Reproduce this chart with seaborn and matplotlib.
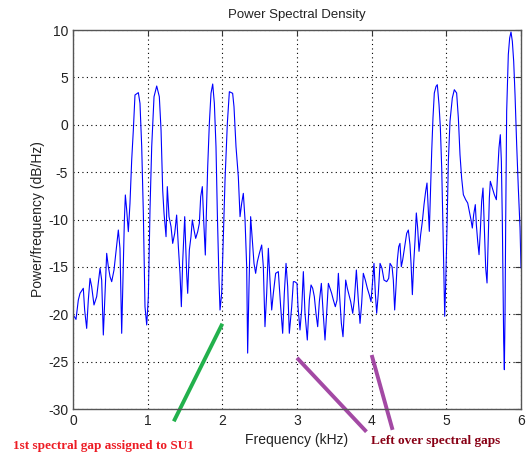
import numpy as np
import pandas as pd
import seaborn as sns
import matplotlib.pyplot as plt

sns.set_style('white')
plt.rcParams['font.family'] = ['Liberation Sans', 'DejaVu Sans']
plt.rcParams['axes.unicode_minus'] = False

# PSD trace (kHz, dB/Hz)
freq = [0.004, 0.04, 0.071, 0.094, 0.138, 0.156, 0.183, 0.205, 0.228, 0.25,
        0.281, 0.317, 0.362, 0.384, 0.406, 0.429, 0.451, 0.473, 0.496, 0.518,
        0.549, 0.585, 0.607, 0.629, 0.652, 0.674, 0.688, 0.701, 0.719, 0.741,
        0.763, 0.786, 0.808, 0.83, 0.875, 0.897, 0.92, 0.942, 0.964, 0.987,
        1.009, 1.031, 1.054, 1.085, 1.121, 1.156, 1.179, 1.201, 1.219, 1.246,
        1.263, 1.286, 1.313, 1.335, 1.362, 1.388, 1.411, 1.433, 1.451, 1.469,
        1.496,
        1.522, 1.536, 1.558, 1.58, 1.598, 1.621, 1.643, 1.67, 1.692, 1.71,
        1.732, 1.75, 1.772, 1.786, 1.804, 1.826, 1.848, 1.871, 1.893, 1.915,
        1.933, 1.955, 1.969, 1.991, 2.013, 2.036, 2.067, 2.094, 2.138, 2.156,
        2.183, 2.214, 2.237, 2.259, 2.281, 2.304, 2.326, 2.339, 2.357, 2.379,
        2.402, 2.424, 2.446, 2.469, 2.496, 2.527, 2.549, 2.571, 2.594, 2.616,
        2.638, 2.661, 2.683, 2.714, 2.75, 2.781, 2.808, 2.83, 2.853, 2.875,
        2.897, 2.929, 2.951,
        2.969, 3.0, 3.013, 3.04, 3.062, 3.085, 3.107, 3.138, 3.165, 3.188,
        3.21, 3.232, 3.254, 3.277, 3.299, 3.326, 3.348, 3.375, 3.397, 3.42,
        3.442, 3.464, 3.487, 3.513, 3.536, 3.554, 3.571, 3.594, 3.616, 3.634,
        3.652, 3.674, 3.696, 3.719, 3.746, 3.768, 3.795, 3.821, 3.844, 3.866,
        3.888, 3.915, 3.942, 3.969, 3.991, 4.013, 4.031, 4.049, 4.067, 4.089,
        4.112, 4.138, 4.165, 4.201, 4.228, 4.246, 4.273, 4.29, 4.308, 4.326,
        4.344, 4.362, 4.379, 4.397, 4.415, 4.442, 4.469, 4.491,
        4.513, 4.527, 4.545, 4.563, 4.58, 4.598, 4.616, 4.634, 4.656, 4.679,
        4.701, 4.723, 4.741, 4.759, 4.772, 4.79, 4.804, 4.821, 4.839, 4.862,
        4.879, 4.902, 4.92, 4.938, 4.955, 4.969, 4.978, 4.991, 5.009, 5.027,
        5.049, 5.08, 5.107, 5.138, 5.161, 5.183, 5.205, 5.228, 5.259, 5.286,
        5.308, 5.33, 5.348, 5.366, 5.388, 5.402, 5.42, 5.438, 5.455, 5.473,
        5.491, 5.509, 5.527, 5.545, 5.563, 5.576, 5.589, 5.616, 5.643, 5.67,
        5.688, 5.705, 5.723, 5.737, 5.75, 5.759, 5.768, 5.777, 5.786, 5.795,
        5.808, 5.83, 5.848, 5.866, 5.884, 5.902, 5.92, 5.942, 5.964, 5.987,
        6.0]

psd = [-20.08, -20.54, -18.5, -17.79, -17.26, -19.55, -21.49, -18.5, -16.21, -17.09,
       -19.02, -18.14, -15.15, -16.39, -22.19, -17.79, -13.57, -14.98, -16.03, -16.56,
       -15.33, -12.69, -11.11, -13.04, -22.01, -14.98, -10.05, -7.41, -9.0, -11.28,
       -8.29, -3.72, -0.55, 3.14, 3.39, 2.26, -2.31, -9.35, -19.2, -21.13,
       -18.14, -9.0, -2.31, 2.96, 4.09, 2.96, -0.55, -6.89, -9.35, -11.81,
       -6.53, -9.7, -10.76, -12.52, -11.46, -9.53, -12.87, -15.68, -19.2, -14.45,
       -9.7,
       -15.68, -17.79, -13.22, -11.81, -10.05, -11.11, -11.99, -11.28, -10.4, -7.59,
       -6.53, -10.05, -13.75, -9.35, -4.42, 0.15, 3.32, 4.3, 2.26, -2.31,
       -9.35, -16.39, -19.55, -17.79, -11.81, -5.83, 0.15, 3.49, 3.32, 1.91,
       -2.31, -5.48, -9.7, -8.29, -7.24, -10.05, -14.98, -24.1, -17.09, -9.7,
       -12.16, -14.63, -15.68, -14.45, -13.57, -12.69, -14.98, -21.31, -17.79, -13.04,
       -16.39, -19.55, -17.79, -15.68, -15.5, -19.2, -22.01, -17.79, -14.63, -17.09,
       -22.01, -19.2, -16.56,
       -16.56, -16.74, -19.2, -21.66, -19.55, -15.5, -19.9, -22.72, -18.5, -16.91,
       -17.26, -18.14, -19.9, -21.31, -18.67, -16.74, -19.55, -22.72, -19.9, -16.74,
       -17.26, -17.79, -18.5, -19.2, -18.5, -15.68, -18.14, -20.96, -22.37, -19.55,
       -16.39, -17.26, -17.97, -18.67, -19.9, -18.5, -15.33, -18.5, -20.96, -18.85,
       -15.68, -16.39, -17.26, -17.97, -18.67, -16.39, -14.63, -17.79, -19.9, -17.79,
       -14.63, -15.15, -16.39, -16.56, -16.21, -14.63, -14.98, -16.39, -19.55, -17.09,
       -14.28, -12.87, -12.52, -14.98, -14.28, -12.87, -11.46, -11.11,
       -12.66, -14.59, -17.93, -14.59, -12.3, -9.31, -10.9, -13.36, -11.6, -10.19,
       -8.43, -7.03, -6.15, -9.14, -11.25, -6.32, -2.81, 0.71, 3.35, 4.05,
       4.23, 2.12, -0.34, -4.57, -10.9, -16.88, -20.22, -16.88, -10.9, -3.86,
       0.36, 2.82, 3.7, 3.35, 0.71, -3.16, -5.62, -7.38, -7.91, -8.26,
       -9.14, -10.02, -10.9, -9.49, -8.43, -10.55, -12.3, -13.71, -11.25, -8.08,
       -6.68, -10.9, -15.12, -16.7, -11.6, -7.73, -5.97, -6.68, -7.38, -7.91,
       -4.92, -2.45, -1.05, -3.86, -10.19, -16.53, -22.86, -25.85, -20.04, -10.19,
       1.42, 7.4, 9.15, 9.79, 8.8, 6.69, 3.17, -2.1, -6.68, -10.9,
       -15.12]

x_ticks = [0, 1, 2, 3, 4, 5, 6]
y_ticks = [-30, -25, -20, -15, -10, -5, 0, 5, 10]

# annotation pointers (start / end in data units)
green_x = [1.35, 2.0]
green_y = [-31.3, -21.0]
gap1_x = [3.0, 3.93]
gap1_y = [-24.6, -32.4]
gap2_x = [4.0, 4.28]
gap2_y = [-24.3, -32.2]

df = pd.DataFrame({'freq': freq, 'psd': psd})

fig = plt.figure(figsize=(5.26, 4.54), dpi=100)
ax = fig.add_axes([0.1388, 0.0991, 0.8517, 0.8348])

sns.lineplot(data=df, x='freq', y='psd', ax=ax, color='#0000ff', lw=0.8,
             sort=False, estimator=None)

ax.set_xlim(0, 6)
ax.set_ylim(-30, 10)
ax.set_xticks(x_ticks)
ax.set_yticks(y_ticks)
ax.grid(True, linestyle=(0, (1, 3)), color='black', lw=0.8)
ax.tick_params(direction='in', top=True, right=True, length=4,
               labelsize=10, color='#333333', labelcolor='#222222')
for sp in ax.spines.values():
    sp.set_color('#555555')
    sp.set_linewidth(1.0)

ax.set_title('Power Spectral Density', fontsize=9.5, color='#222222', pad=9)
ax.set_xlabel('Frequency (kHz)', fontsize=10, color='#222222', labelpad=4)
ax.set_ylabel('Power/frequency (dB/Hz)', fontsize=10, color='#222222', labelpad=2)

ax.plot(green_x, green_y, color='#22b14c', lw=2.8, clip_on=False, solid_capstyle='butt')
ax.plot(gap1_x, gap1_y, color='#a349a4', lw=2.8, clip_on=False, solid_capstyle='butt')
ax.plot(gap2_x, gap2_y, color='#a349a4', lw=2.8, clip_on=False, solid_capstyle='butt')

fig.text(0.024, 0.012, '1st spectral gap assigned to SU1', color='#ed1c24',
         fontsize=9.5, fontweight='bold', family='Liberation Serif')
fig.text(0.705, 0.021, 'Left over spectral gaps', color='#880015',
         fontsize=9.5, fontweight='bold', family='Liberation Serif')

fig.savefig('out.png', dpi=100)
